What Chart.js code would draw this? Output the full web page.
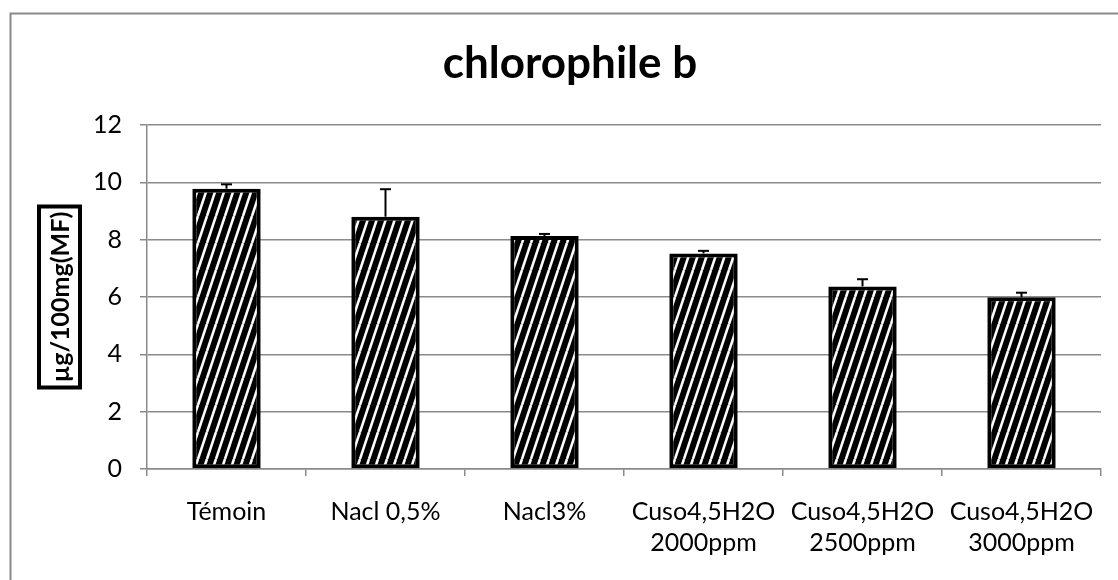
<!DOCTYPE html>
<html><head><meta charset="utf-8">
<script src="https://cdn.jsdelivr.net/npm/chart.js@4"></script>
<style>html,body{margin:0;padding:0;background:#fff;overflow:hidden}
#wrap{width:1140px;height:580px;position:relative}</style></head>
<body><div id="wrap"><canvas id="c" width="1140" height="580"></canvas></div>
<script>
const categories = [["Témoin"], ["Nacl 0,5%"], ["Nacl3%"], ["Cuso4,5H2O", "2000ppm"], ["Cuso4,5H2O", "2500ppm"], ["Cuso4,5H2O", "3000ppm"]];
const values = [9.78, 8.80, 8.13, 7.52, 6.37, 5.99];
const errors = [0.15, 0.96, 0.07, 0.09, 0.25, 0.16];
const yMin = 0, yMax = 12, yStep = 2;
const chartTitle = "chlorophile b";
const yTitle = "µg/100mg(MF)";

const FONT = 'Lato, "Open Sans", sans-serif';
const canvas = document.getElementById('c');
const ctx = canvas.getContext('2d');

function makeHatch() {
  const t = document.createElement('canvas');
  t.width = 9; t.height = 27;
  const g = t.getContext('2d');
  g.fillStyle = '#000'; g.fillRect(0, 0, 9, 27);
  g.strokeStyle = '#fff'; g.lineWidth = 2.6;
  for (const dx of [-9, 0, 9]) {
    g.beginPath(); g.moveTo(dx, 27); g.lineTo(dx + 9, 0); g.stroke();
  }
  return ctx.createPattern(t, 'repeat');
}

const decor = {
  id: 'decor',
  afterDatasetsDraw(chart) {
    const c = chart.ctx, ys = chart.scales.y, meta = chart.getDatasetMeta(0);
    c.save();
    c.strokeStyle = '#000'; c.lineWidth = 2;
    meta.data.forEach((bar, i) => {
      const x = bar.x;
      const base = ys.getPixelForValue(values[i]);
      const top = ys.getPixelForValue(values[i] + errors[i]);
      c.beginPath(); c.moveTo(x, base); c.lineTo(x, top); c.stroke();
      c.beginPath(); c.moveTo(x - 5.5, top); c.lineTo(x + 5.5, top); c.stroke();
    });
    c.restore();
  },
  afterDraw(chart) {
    const c = chart.ctx, a = chart.chartArea;
    c.save();
    // outer frame
    c.strokeStyle = '#8a8a8a'; c.lineWidth = 2;
    c.strokeRect(10.5, 13.5, 1200, 700);
    // title
    c.fillStyle = '#000';
    c.font = 'bold 44px ' + FONT;
    c.textAlign = 'center'; c.textBaseline = 'alphabetic';
    c.fillText(chartTitle, 570, 78);
    // y title with box
    c.translate(59.5, (a.top + a.bottom) / 2);
    c.rotate(-Math.PI / 2);
    c.font = 'bold 25px ' + FONT;
    c.textBaseline = 'middle';
    c.fillText(yTitle, 0, 1);
    c.strokeStyle = '#000'; c.lineWidth = 4;
    c.strokeRect(-90.5, -20.5, 181, 41);
    c.restore();
  }
};

new Chart(ctx, {
  type: 'bar',
  data: {
    labels: categories,
    datasets: [{
      data: values,
      backgroundColor: makeHatch(),
      borderColor: '#000',
      borderWidth: 4,
      borderSkipped: false,
      barPercentage: 0.43,
      categoryPercentage: 1
    }]
  },
  options: {
    responsive: false,
    animation: false,
    layout: { padding: { top: 125, right: 39, left: 0, bottom: 0 } },
    plugins: { legend: { display: false }, title: { display: false }, tooltip: { enabled: false } },
    scales: {
      x: {
        grid: { drawOnChartArea: false, drawTicks: true, tickLength: 7, offset: true, color: '#8a8a8a', lineWidth: 1.5 },
        border: { color: '#8a8a8a', width: 1.5 },
        ticks: { color: '#000', font: { family: FONT, size: 25, lineHeight: 1.24 }, padding: 20, maxRotation: 0, autoSkip: false },
        afterFit(s) { s.height = 111; }
      },
      y: {
        min: yMin, max: yMax,
        grid: { color: '#8a8a8a', lineWidth: 1.5, tickLength: 7 },
        border: { color: '#8a8a8a', width: 1.5 },
        ticks: { stepSize: yStep, color: '#000', font: { family: FONT, size: 25 }, padding: 18 },
        afterFit(s) { s.width = 147; }
      }
    }
  },
  plugins: [decor]
});
</script>
</body></html>
